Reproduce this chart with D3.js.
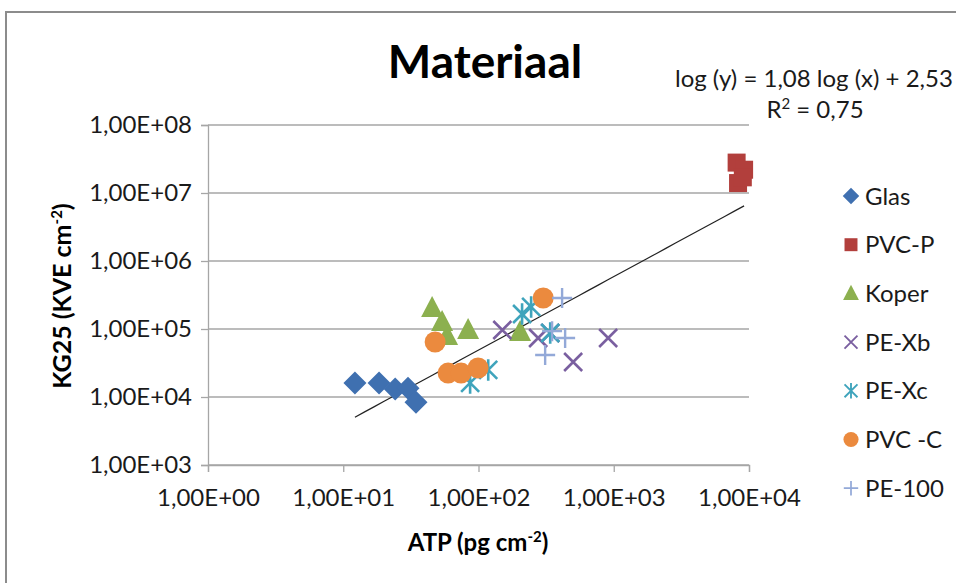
<!DOCTYPE html>
<html>
<head>
<meta charset="utf-8">
<script src="https://cdnjs.cloudflare.com/ajax/libs/d3/7.8.5/d3.min.js"></script>
<style>
  body { margin: 0; background: #fff; }
  svg { font-family: Lato, 'Open Sans', sans-serif; }
</style>
</head>
<body>
<svg id="chart" width="956" height="583"></svg>
<script>
// values: [ATP, KG25]
var glas = [[12.2, 16100], [18.4, 16100], [24.2, 13100], [30.1, 13500], [34.5, 8400]];
var pvcP = [[8100, 2.8e7], [9200, 2.2e7], [8300, 1.4e7], [9000, 1.7e7]];
var koper = [[45.4, 204000], [53.8, 127000], [58.6, 79000], [83.8, 97000], [203, 90000]];
var peXb = [[150, 96600], [276, 73800], [339, 87400], [501, 32700], [909, 73800]];
var peXc = [[86.7, 16100], [118, 25000], [210, 166000], [245, 211000], [339, 87400]];
var pvcC = [[47.8, 64400], [59.6, 22500], [74.3, 22500], [99.3, 26700], [301, 286000]];
var pe100 = [[415, 286000], [437, 73800], [311, 41500], [350, 93000]];

var seriesNames = ['Glas', 'PVC-P', 'Koper', 'PE-Xb', 'PE-Xc', 'PVC -C', 'PE-100'];
var seriesShapes = ['diamond', 'square', 'triangle', 'cross', 'star', 'circle', 'plus'];
var seriesColors = ['#3f70b0', '#b23f3c', '#8cb04f', '#7a5fa0', '#3fa4bc', '#eb8a3e', '#93a9d8'];
var seriesData = [glas, pvcP, koper, peXb, peXc, pvcC, pe100];

var xTicks = [1, 10, 100, 1000, 10000];
var yTicks = [1e3, 1e4, 1e5, 1e6, 1e7, 1e8];

// trend line: log(y) = 1,08 log(x) + 2,53
var trendSlope = 1.08;
var trendIntercept = 2.53;

var svg = d3.select('#chart');

// outer chart border (runs off the picture at right and bottom)
svg.append('rect')
    .attr('x', 6).attr('y', 12)
    .attr('width', 1000).attr('height', 700)
    .attr('fill', 'none')
    .attr('stroke', '#8c8c8c')
    .attr('stroke-width', 2);

var x = d3.scaleLog().domain([1, 1e4]).range([208, 749]);
var y = d3.scaleLog().domain([1e3, 1e8]).range([465, 125]);

function sciLabel(v) {
    var e = Math.round(Math.log10(v));
    return '1,00E+' + (e < 10 ? '0' : '') + e;
}

// gridlines
svg.append('g')
    .selectAll('line')
    .data(yTicks)
    .enter().append('line')
    .attr('x1', x(1)).attr('x2', x(1e4))
    .attr('y1', function(d) { return y(d); })
    .attr('y2', function(d) { return y(d); })
    .attr('stroke', '#a6a6a6')
    .attr('stroke-width', 1.3);

var xAxis = svg.append('g')
    .attr('transform', 'translate(0,' + y(1e3) + ')')
    .call(d3.axisBottom(x).tickValues(xTicks).tickFormat(sciLabel).tickSize(7).tickPadding(17));

var yAxis = svg.append('g')
    .attr('transform', 'translate(' + x(1) + ',0)')
    .call(d3.axisLeft(y).tickValues(yTicks).tickFormat(sciLabel).tickSize(7).tickPadding(9));

[xAxis, yAxis].forEach(function(a) {
    a.select('.domain').attr('stroke', '#a6a6a6').attr('stroke-width', 1.3);
    a.selectAll('.tick line').attr('stroke', '#a6a6a6').attr('stroke-width', 1.3);
    a.selectAll('.tick text')
        .attr('fill', '#1a1a1a')
        .style('font-family', 'Lato, sans-serif')
        .style('font-size', '24px');
});

// trend line over the range of the data
var allX = [];
seriesData.forEach(function(s) { s.forEach(function(p) { allX.push(p[0]); }); });
var xExt = d3.extent(allX);
var trendPts = d3.range(0, 41).map(function(i) {
    var lx = Math.log10(xExt[0]) + i / 40 * (Math.log10(xExt[1]) - Math.log10(xExt[0]));
    return [Math.pow(10, lx), Math.pow(10, trendSlope * lx + trendIntercept)];
});
svg.append('path')
    .datum(trendPts)
    .attr('fill', 'none')
    .attr('stroke', '#222')
    .attr('stroke-width', 1.2)
    .attr('d', d3.line()
        .x(function(d) { return x(d[0]); })
        .y(function(d) { return y(d[1]); }));

function drawMarker(g, shape, color, scale) {
    var s = scale || 1;
    if (shape == 'diamond') {
        g.append('path').attr('d', 'M0,' + (-11.5 * s) + 'L' + (11.5 * s) + ',0L0,' + (11.5 * s) + 'L' + (-11.5 * s) + ',0Z')
            .attr('fill', color);
    } else if (shape == 'square') {
        g.append('rect').attr('x', -9 * s).attr('y', -9 * s)
            .attr('width', 18 * s).attr('height', 18 * s).attr('fill', color);
    } else if (shape == 'triangle') {
        g.append('path').attr('d', 'M0,' + (-12 * s) + 'L' + (11 * s) + ',' + (9 * s) + 'L' + (-11 * s) + ',' + (9 * s) + 'Z')
            .attr('fill', color);
    } else if (shape == 'circle') {
        g.append('circle').attr('r', 10.5 * s).attr('fill', color);
    } else if (shape == 'cross') {
        var c = 9 * s;
        g.append('path').attr('d', 'M' + (-c) + ',' + (-c) + 'L' + c + ',' + c + 'M' + (-c) + ',' + c + 'L' + c + ',' + (-c))
            .attr('stroke', color).attr('stroke-width', 2.6 * s).attr('fill', 'none');
    } else if (shape == 'star') {
        var k = 9 * s;
        g.append('path').attr('d', 'M' + (-k) + ',' + (-k) + 'L' + k + ',' + k + 'M' + (-k) + ',' + k + 'L' + k + ',' + (-k) +
                'M0,' + (-k * 1.2) + 'L0,' + (k * 1.2))
            .attr('stroke', color).attr('stroke-width', 2.6 * s).attr('fill', 'none');
    } else if (shape == 'plus') {
        var p = 10 * s;
        g.append('path').attr('d', 'M' + (-p) + ',0L' + p + ',0M0,' + (-p) + 'L0,' + p)
            .attr('stroke', color).attr('stroke-width', 2.4 * s).attr('fill', 'none');
    }
}

// points
seriesData.forEach(function(s, i) {
    svg.append('g')
        .selectAll('g')
        .data(s)
        .enter().append('g')
        .attr('transform', function(d) { return 'translate(' + x(d[0]) + ',' + y(d[1]) + ')'; })
        .each(function() { drawMarker(d3.select(this), seriesShapes[i], seriesColors[i]); });
});

// legend
var legend = svg.append('g');
seriesNames.forEach(function(name, i) {
    var ly = 196 + i * 48.7;
    var g = legend.append('g').attr('transform', 'translate(851,' + ly + ')');
    drawMarker(g, seriesShapes[i], seriesColors[i], 0.72);
    g.append('text')
        .attr('x', 14).attr('y', 8.5)
        .attr('fill', '#1a1a1a')
        .style('font-size', '24px')
        .text(name);
});

// titles
svg.append('text')
    .attr('x', 485).attr('y', 78)
    .attr('text-anchor', 'middle')
    .style('font-size', '46px').style('font-weight', 'bold')
    .attr('fill', '#000')
    .text('Materiaal');

svg.append('text')
    .attr('x', 675).attr('y', 87)
    .style('font-size', '24px')
    .attr('fill', '#1a1a1a')
    .text('log (y) = 1,08 log (x) + 2,53');

var r2 = svg.append('text')
    .attr('x', 815).attr('y', 118)
    .attr('text-anchor', 'middle')
    .style('font-size', '24px')
    .attr('fill', '#1a1a1a');
r2.append('tspan').text('R');
r2.append('tspan').attr('dy', -9).style('font-size', '15px').text('2');
r2.append('tspan').attr('dy', 9).text(' = 0,75');

var xt = svg.append('text')
    .attr('x', 478).attr('y', 551)
    .attr('text-anchor', 'middle')
    .style('font-size', '24px').style('font-weight', 'bold')
    .attr('fill', '#000');
xt.append('tspan').text('ATP (pg cm');
xt.append('tspan').attr('dy', -9).style('font-size', '15px').text('-2');
xt.append('tspan').attr('dy', 9).text(')');

var yt = svg.append('text')
    .attr('transform', 'translate(71,296) rotate(-90)')
    .attr('text-anchor', 'middle')
    .style('font-size', '25px').style('font-weight', 'bold')
    .attr('fill', '#000');
yt.append('tspan').text('KG25 (KVE cm');
yt.append('tspan').attr('dy', -9).style('font-size', '15px').text('-2');
yt.append('tspan').attr('dy', 9).text(')');
</script>
</body>
</html>
